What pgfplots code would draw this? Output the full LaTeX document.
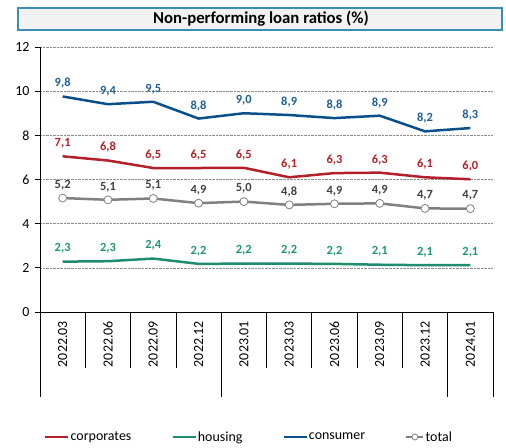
\documentclass[border=0pt]{standalone}
\usepackage{pgfplots}
\pgfplotsset{compat=1.18}
\usepackage{fontspec}
\setmainfont{Carlito}
\definecolor{corp}{HTML}{B4202A}
\definecolor{hous}{HTML}{1E8C6E}
\definecolor{housl}{HTML}{1E9672}
\definecolor{cons}{HTML}{0B4F8A}
\definecolor{consl}{HTML}{1F5F99}
\definecolor{tot}{HTML}{808080}
\definecolor{totl}{HTML}{404040}
\definecolor{titleframe}{HTML}{3A8DB5}
\begin{document}
\begin{tikzpicture}
\useasboundingbox (0bp,0bp) rectangle (506bp,448bp);
\draw[titleframe, line width=1.2bp, fill=black!5] (18bp,418bp) rectangle (502bp,440bp);
\node[font=\fontsize{16.8}{18}\selectfont\bfseries] at (261bp,429bp) {Non-performing loan ratios (\%)};
\begin{axis}[
  at={(40bp,136bp)}, anchor=south west,
  scale only axis, width=453bp, height=265bp,
  xmin=-0.5, xmax=9.5, ymin=0, ymax=12,
  ytick={0,2,4,6,8,10,12},
  yticklabels={0,2,4,6,8,10,12},
  xtick={0,...,9},
  xticklabels={2022.03,2022.06,2022.09,2022.12,2023.01,2023.03,2023.06,2023.09,2023.12,2024.01},
  axis lines=left, axis line style={-, black, line width=0.8bp},
  ymajorgrids, grid style={densely dotted, black!45, line width=0.6bp},
  tick align=outside, major tick length=5bp,
  xtick style={draw=none}, ytick style={black, line width=0.8bp},
  yticklabel style={font=\fontsize{14}{16}\selectfont, xshift=-2bp},
  xticklabel style={yshift=-4bp, rotate=90, anchor=east, font=\fontsize{14}{16}\selectfont, inner sep=0pt},
  clip=false,
  point meta=explicit symbolic,
  nodes near coords,
  every node near coord/.append style={font=\fontsize{12.5}{14}\selectfont\bfseries, anchor=center, yshift=13bp},
  legend columns=4,
  legend style={at={(0.0088,-0.4717)}, anchor=west, draw=none, fill=none, inner sep=0pt,
    font=\fontsize{14}{16}\selectfont,
    nodes={inner xsep=1bp, inner ysep=0pt},
    /tikz/every even column/.append style={column sep=39bp}},
  legend image code/.code={\draw[#1] (0bp,0bp) -- (23bp,0bp);},
]
\addplot[corp, line width=2.5bp, every node near coord/.append style={text=corp}] table[x=x, y=y, meta=l] {
x y l
0 7.05 7,1
1 6.86 6,8
2 6.52 6,5
3 6.52 6,5
4 6.53 6,5
5 6.10 6,1
6 6.29 6,3
7 6.31 6,3
8 6.10 6,1
9 6.01 6,0
};
\addlegendentry{corporates}
\addplot[hous, line width=2.5bp, every node near coord/.append style={text=housl}] table[x=x, y=y, meta=l] {
x y l
0 2.28 2,3
1 2.30 2,3
2 2.42 2,4
3 2.18 2,2
4 2.19 2,2
5 2.19 2,2
6 2.18 2,2
7 2.14 2,1
8 2.12 2,1
9 2.12 2,1
};
\addlegendentry{housing}
\addplot[cons, line width=2.5bp, every node near coord/.append style={text=consl}] table[x=x, y=y, meta=l] {
x y l
0 9.76 9,8
1 9.41 9,4
2 9.52 9,5
3 8.76 8,8
4 9.00 9,0
5 8.92 8,9
6 8.78 8,8
7 8.89 8,9
8 8.18 8,2
9 8.33 8,3
};
\addlegendentry{consumer}
\addplot[tot, line width=2.5bp, mark=*, mark size=4bp, mark options={fill=white, draw=tot, line width=0.8bp},
  every node near coord/.append style={text=totl},
  legend image code/.code={\draw[tot, line width=2.5bp] (0bp,0bp) -- (17bp,0bp); \draw[tot, fill=white, line width=0.8bp] (8.5bp,0bp) circle (3bp);}] table[x=x, y=y, meta=l] {
x y l
0 5.16 5,2
1 5.08 5,1
2 5.14 5,1
3 4.93 4,9
4 5.00 5,0
5 4.85 4,8
6 4.90 4,9
7 4.92 4,9
8 4.69 4,7
9 4.68 4,7
};
\addlegendentry{total}
\pgfplotsinvokeforeach{0.5,1.5,2.5,4.5,5.5,6.5,7.5}{
  \draw[black, line width=0.8bp] (axis cs:#1,0) -- ++(0bp,-56bp);
}
\pgfplotsinvokeforeach{-0.5,3.5,8.5,9.5}{
  \draw[black, line width=0.8bp] (axis cs:#1,0) -- ++(0bp,-85bp);
}
\end{axis}
\end{tikzpicture}
\end{document}
